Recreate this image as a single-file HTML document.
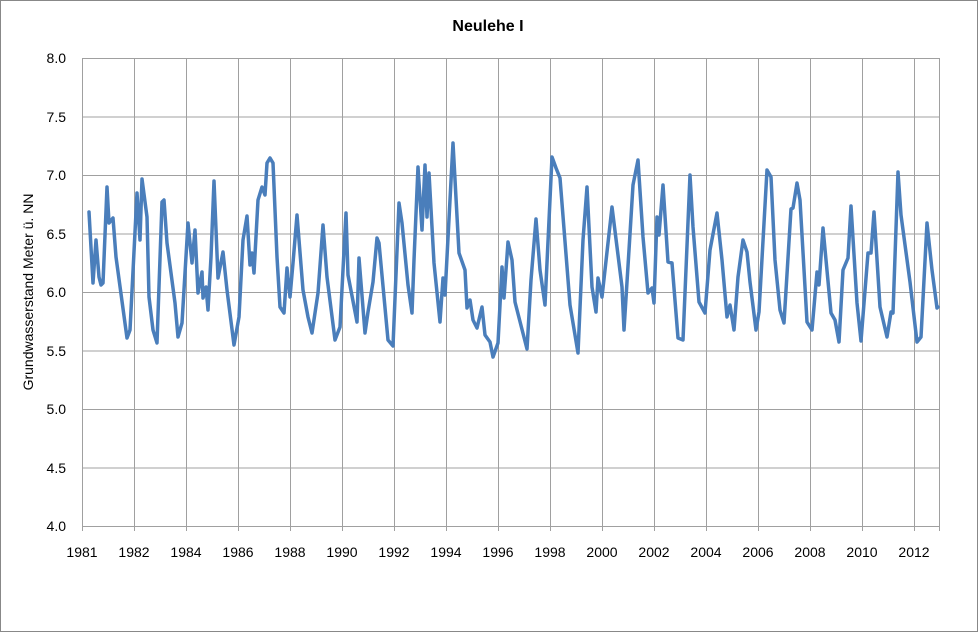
<!DOCTYPE html>
<html><head><meta charset="utf-8"><style>
html,body{margin:0;padding:0;background:#fff;}
svg{display:block;font-family:"Liberation Sans",sans-serif;}
</style></head><body>
<svg width="978" height="632" xmlns="http://www.w3.org/2000/svg">
<rect x="0.5" y="0.5" width="977" height="631" fill="#fff" stroke="#888"/>
<text x="488" y="31" text-anchor="middle" font-size="16" font-weight="bold">Neulehe I</text>
<g stroke="#a0a0a0" stroke-width="1">
<line x1="82" y1="58.5" x2="940" y2="58.5"/><line x1="82" y1="117" x2="940" y2="117"/><line x1="82" y1="175.5" x2="940" y2="175.5"/><line x1="82" y1="234" x2="940" y2="234"/><line x1="82" y1="292.5" x2="940" y2="292.5"/><line x1="82" y1="351" x2="940" y2="351"/><line x1="82" y1="409.5" x2="940" y2="409.5"/><line x1="82" y1="468" x2="940" y2="468"/><line x1="82" y1="526.5" x2="940" y2="526.5"/>
<line x1="82.5" y1="58" x2="82.5" y2="531"/><line x1="134.5" y1="58" x2="134.5" y2="531"/><line x1="186.5" y1="58" x2="186.5" y2="531"/><line x1="238.5" y1="58" x2="238.5" y2="531"/><line x1="290.5" y1="58" x2="290.5" y2="531"/><line x1="342.5" y1="58" x2="342.5" y2="531"/><line x1="394.5" y1="58" x2="394.5" y2="531"/><line x1="446.5" y1="58" x2="446.5" y2="531"/><line x1="498.5" y1="58" x2="498.5" y2="531"/><line x1="550.5" y1="58" x2="550.5" y2="531"/><line x1="602.5" y1="58" x2="602.5" y2="531"/><line x1="654.5" y1="58" x2="654.5" y2="531"/><line x1="706.5" y1="58" x2="706.5" y2="531"/><line x1="758.5" y1="58" x2="758.5" y2="531"/><line x1="810.5" y1="58" x2="810.5" y2="531"/><line x1="862.5" y1="58" x2="862.5" y2="531"/><line x1="914.5" y1="58" x2="914.5" y2="531"/><line x1="939.5" y1="58" x2="939.5" y2="531"/>
</g>
<g font-size="14" text-anchor="end">
<text x="66" y="63">8.0</text><text x="66" y="122">7.5</text><text x="66" y="180">7.0</text><text x="66" y="239">6.5</text><text x="66" y="297">6.0</text><text x="66" y="356">5.5</text><text x="66" y="414">5.0</text><text x="66" y="473">4.5</text><text x="66" y="531">4.0</text>
</g>
<g font-size="14" text-anchor="middle">
<text x="82" y="557">1981</text><text x="134" y="557">1982</text><text x="186" y="557">1984</text><text x="238" y="557">1986</text><text x="290" y="557">1988</text><text x="342" y="557">1990</text><text x="394" y="557">1992</text><text x="446" y="557">1994</text><text x="498" y="557">1996</text><text x="550" y="557">1998</text><text x="602" y="557">2000</text><text x="654" y="557">2002</text><text x="706" y="557">2004</text><text x="758" y="557">2006</text><text x="810" y="557">2008</text><text x="862" y="557">2010</text><text x="914" y="557">2012</text>
</g>
<text transform="translate(33,292) rotate(-90)" text-anchor="middle" font-size="14">Grundwasserstand Meter ü. NN</text>
<polyline fill="none" stroke="#4a7ebb" stroke-width="3.5" stroke-linejoin="round" stroke-linecap="round" points="89,212 93,283 96,240 99,277 101,285 103,283 107,187 109,223 113,218 116,257 127,338 130,330 137,193 140,240 142,179 147,217 149,297 153,330 157,343 162,202 164,200 167,243 175,303 178,337 182,323 188,223 192,263 195,230 198,293 202,272 203,298 206,287 208,310 211,257 214,181 218,278 223,252 227,290 234,345 239,317 243,240 247,216 250,265 252,253 254,273 258,200 262,187 265,195 267,163 270,158 273,163 277,257 280,307 284,313 287,268 290,297 293,263 297,215 303,290 308,317 312,333 318,293 323,225 327,277 335,340 340,327 346,213 348,275 357,322 359,258 365,333 368,312 373,282 377,238 379,243 388,340 393,346 399,203 402,223 408,285 412,313 414,260 418,167 422,230 425,165 427,217 429,173 434,263 440,322 443,278 445,295 453,143 459,253 465,270 467,308 470,300 473,320 477,328 482,307 485,335 490,342 493,357 498,343 502,267 504,298 508,242 512,260 515,302 527,349 531,280 536,219 540,270 545,305 552,157 556,168 560,178 570,305 578,353 583,240 587,187 592,287 596,312 598,278 602,297 612,207 622,287 624,330 629,250 633,185 638,160 643,237 648,293 652,288 654,303 657,217 659,235 663,185 668,262 672,263 678,338 683,340 690,175 693,227 699,302 705,313 710,250 717,213 722,260 727,317 730,305 734,330 738,277 743,240 747,252 750,282 756,330 759,312 767,170 771,177 775,260 780,310 784,323 791,209 793,208 797,183 800,200 807,322 812,330 817,272 819,285 823,228 831,313 835,320 839,342 843,270 848,258 851,206 857,303 861,341 868,253 871,253 874,212 880,307 887,337 891,312 893,313 898,172 901,215 910,282 917,342 921,337 927,223 932,270 937,308 938,307"/>
</svg>
</body></html>
